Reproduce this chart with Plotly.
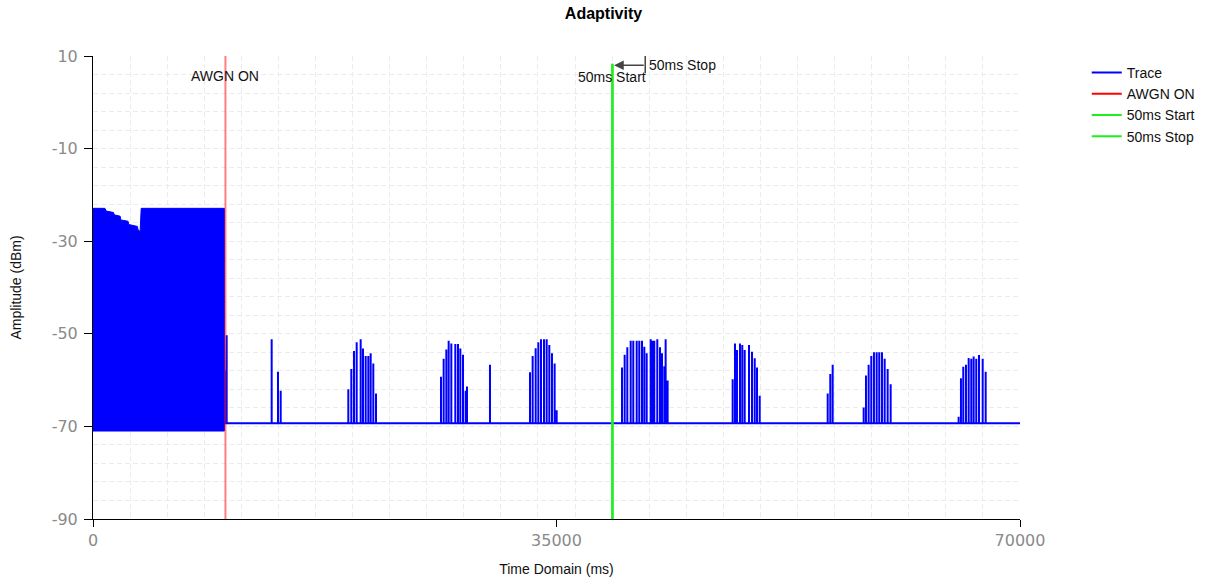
import plotly.graph_objects as go

# Dense signal block before AWGN is switched on (envelope of the trace)
dense_time = [0, 900, 1000, 1550, 1600, 2050, 2100, 2650, 2700, 3350, 3400, 3560, 3640, 9920]
dense_top = [-22.9, -22.9, -23.5, -23.8, -24.3, -24.6, -25.4, -25.7, -26.4, -26.8, -27.5, -27.9, -22.9, -22.9]
dense_floor = -71.0

# Noise floor after AWGN ON and the remaining transmission pulses
baseline_level = -69.3
trace_end = 70000
pulse_time = [
    10050, 10094, 13492, 13969, 14173,
    19280, 19506, 19710, 19911, 20213, 20388, 20590, 20790, 20968, 21166, 21369,
    26278, 26479, 26680, 26857, 27058, 27360, 27561, 27737, 27939, 28140, 28241,
    29977,
    32998, 33199, 33427, 33629, 33829, 34055, 34257, 34457, 34658, 34859, 35013,
    39945, 40147, 40347, 40602, 40798, 41055, 41251, 41455, 41629, 41810, 42112,
    42263, 42384, 42611, 42815, 42966, 43140, 43241, 43392,
    48302, 48477, 48628, 48855, 49029, 49211, 49536, 49762, 49967, 50140, 50344,
    55478, 55674, 55855,
    58195, 58369, 58570, 58770, 58972, 59176, 59372, 59577, 59780, 60006, 60233,
    65365, 65542, 65716, 65920, 66124, 66320, 66501, 66697, 66903, 67182, 67408,
]
pulse_peak = [
    -58.0, -50.3, -51.2, -58.2, -62.3,
    -62.0, -57.6, -53.7, -51.8, -51.2, -53.2, -54.8, -54.8, -54.2, -56.4, -62.9,
    -59.3, -55.4, -53.4, -51.5, -52.1, -52.2, -52.2, -53.2, -54.5, -62.3, -61.4,
    -56.7,
    -58.3, -54.8, -53.1, -51.8, -51.2, -51.2, -51.2, -52.4, -54.2, -56.4, -66.5,
    -57.3, -54.5, -52.9, -51.5, -51.5, -51.5, -51.5, -51.5, -52.8, -54.2, -51.2,
    -51.5, -51.5, -51.2, -52.9, -54.2, -57.0, -51.2, -60.1,
    -59.8, -52.1, -53.5, -52.1, -52.4, -53.5, -52.4, -53.9, -55.3, -57.3, -63.4,
    -62.9, -58.7, -56.7,
    -65.9, -59.0, -56.7, -54.8, -54.0, -54.0, -54.0, -54.0, -55.4, -57.6, -60.9,
    -67.9, -59.6, -57.1, -56.7, -55.2, -55.4, -54.9, -55.4, -54.6, -55.4, -58.2,
]

# Markers
awgn_on_time = 10000
start_time = 39200
stop_time = 39250
marker_top = 8.3
label_level = 8.0
stop_label_time = 41700

y_range = [-90, 10]
x_range = [0, 70000]
x_ticks = [0, 35000, 70000]
x_tick_text = ["0", "35000", "70000"]
y_ticks = [-90, -70, -50, -30, -10, 10]
y_tick_text = ["-90", "-70", "-50", "-30", "-10", "10"]

BLUE = "#0000ff"
GREEN = "#1eef1e"
FONT = "Liberation Sans, Arial, sans-serif"
TICK_FONT = "DejaVu Sans, Verdana, sans-serif"

# Build the trace polyline: baseline with vertical pulses
tx = [dense_time[-1]]
ty = [baseline_level]
for t, p in zip(pulse_time, pulse_peak):
    tx += [t, t, t]
    ty += [baseline_level, p, baseline_level]
tx.append(trace_end)
ty.append(baseline_level)

fig = go.Figure()

# Dense block drawn as a filled envelope
fig.add_trace(go.Scatter(
    x=dense_time + [dense_time[-1], dense_time[0]],
    y=dense_top + [dense_floor, dense_floor],
    fill="toself", fillcolor=BLUE, mode="lines",
    line=dict(color=BLUE, width=1), showlegend=False, hoverinfo="skip",
))
fig.add_trace(go.Scatter(
    x=tx, y=ty, mode="lines", name="Trace",
    line=dict(color=BLUE, width=2),
))
# AWGN ON marker line (lighter in plot, full red in legend)
fig.add_trace(go.Scatter(
    x=[awgn_on_time, awgn_on_time], y=y_range, mode="lines",
    line=dict(color="rgba(255,0,0,0.5)", width=2), showlegend=False,
))
fig.add_trace(go.Scatter(
    x=[None], y=[None], mode="lines", name="AWGN ON",
    line=dict(color="#ff0000", width=2),
))
fig.add_trace(go.Scatter(
    x=[start_time, start_time], y=[y_range[0], marker_top], mode="lines",
    name="50ms Start", line=dict(color=GREEN, width=2),
))
fig.add_trace(go.Scatter(
    x=[stop_time, stop_time], y=[y_range[0], marker_top], mode="lines",
    name="50ms Stop", line=dict(color=GREEN, width=2),
))

# Labels
fig.add_annotation(x=awgn_on_time, y=5.7, text="AWGN ON", showarrow=False,
                   font=dict(family=FONT, size=14, color="#111"))
fig.add_annotation(x=start_time, y=5.5, text="50ms Start", showarrow=False,
                   font=dict(family=FONT, size=14, color="#111"))
fig.add_annotation(x=stop_label_time, y=label_level, text="50ms Stop", showarrow=False,
                   xanchor="left", xshift=2,
                   font=dict(family=FONT, size=14, color="#111"))
fig.add_annotation(x=start_time, y=label_level, ax=stop_label_time, ay=label_level,
                   axref="x", ayref="y", text="", showarrow=True,
                   arrowhead=2, arrowsize=1.2, arrowwidth=1.6, arrowcolor="#444",
                   standoff=2)
fig.add_shape(type="line", x0=stop_label_time, x1=stop_label_time, y0=10, y1=6.3,
              line=dict(color="#444", width=1.5))

grid = dict(gridcolor="#ececec", griddash="5px,3px", gridwidth=1)

fig.update_layout(
    width=1207, height=583,
    margin=dict(l=93, r=187, t=56, b=64, autoexpand=False),
    paper_bgcolor="white", plot_bgcolor="white",
    title=dict(text="<b>Adaptivity</b>", x=0.5, xref="container", xanchor="center",
               y=1 - 13 / 583, yref="container", yanchor="middle",
               font=dict(family=FONT, size=16, color="#000")),
    font=dict(family=FONT, color="#000"),
    legend=dict(x=1.072, y=0.998, xanchor="left", yanchor="top",
                font=dict(family=FONT, size=14, color="#111"),
                bgcolor="rgba(0,0,0,0)", tracegroupgap=0),
    showlegend=True,
)
fig.update_xaxes(
    range=x_range, tickvals=x_ticks, ticktext=x_tick_text, showgrid=False, zeroline=False,
    showline=True, linecolor="#000", linewidth=1,
    ticks="outside", ticklen=7, tickcolor="#000",
    tickfont=dict(family=TICK_FONT, size=16, color="#8a8a8a"),
    minor=dict(dtick=2800, tick0=0, showgrid=True, ticks="", **grid),
    title=dict(text="Time Domain (ms)", standoff=14,
               font=dict(family=FONT, size=14, color="#111")),
)
fig.update_yaxes(
    range=y_range, tickvals=y_ticks, ticktext=y_tick_text, showgrid=True, zeroline=False, **grid,
    showline=True, linecolor="#000", linewidth=1,
    ticks="outside", ticklen=8, tickcolor="#000", ticklabelstandoff=3,
    tickfont=dict(family=TICK_FONT, size=16, color="#8a8a8a"),
    minor=dict(dtick=4, tick0=-90, showgrid=True, ticks="", **grid),
    title=dict(text="Amplitude (dBm)", standoff=26,
               font=dict(family=FONT, size=14, color="#111")),
)

fig.write_html("out.html")
